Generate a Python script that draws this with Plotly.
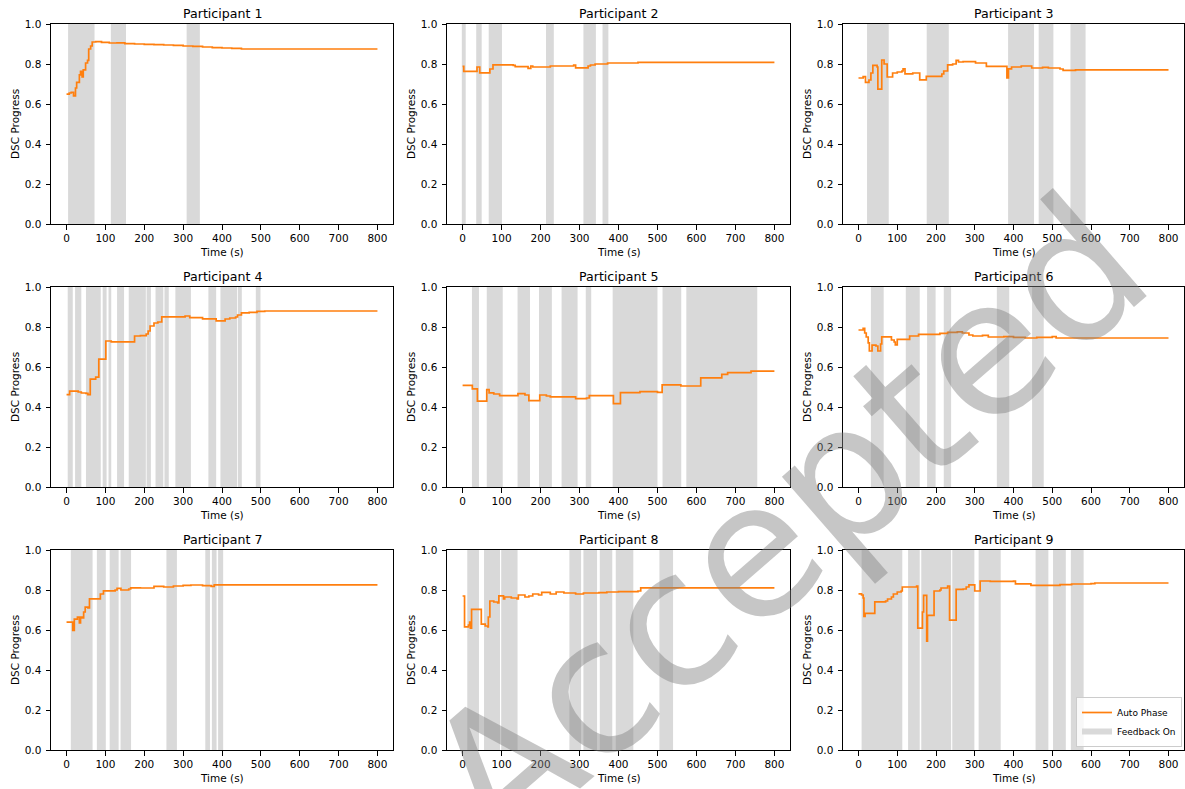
import plotly.graph_objects as go

# ---------------- data ----------------
titles = [f"Participant {i}" for i in range(1, 10)]
x_ticks = [0, 100, 200, 300, 400, 500, 600, 700, 800]
y_ticks = [0.0, 0.2, 0.4, 0.6, 0.8, 1.0]

p1_time = [0, 7, 12, 18, 23, 26, 33, 36, 40, 43, 49, 54, 57, 62, 66, 75, 90, 110, 130, 150, 175, 200, 225, 250, 275, 300, 325, 350, 375, 400, 425, 450, 800]
p1_dsc = [0.649, 0.655, 0.658, 0.641, 0.68, 0.708, 0.746, 0.763, 0.735, 0.771, 0.805, 0.818, 0.875, 0.89, 0.91, 0.912, 0.908, 0.905, 0.906, 0.902, 0.90, 0.898, 0.897, 0.895, 0.893, 0.89, 0.888, 0.885, 0.882, 0.88, 0.878, 0.875, 0.875]
p1_feedback = [(4, 72), (114, 153), (309, 343)]

p2_time = [0, 3, 37, 44, 70, 78, 130, 135, 168, 175, 180, 225, 285, 290, 322, 328, 340, 372, 450, 800]
p2_dsc = [0.788, 0.763, 0.785, 0.756, 0.775, 0.796, 0.793, 0.787, 0.778, 0.79, 0.785, 0.79, 0.795, 0.781, 0.79, 0.795, 0.80, 0.805, 0.808, 0.808]
p2_feedback = [(-2, 8), (35, 49), (67, 101), (214, 234), (310, 342), (359, 374)]

p3_time = [0, 12, 18, 27, 32, 37, 48, 50, 60, 66, 74, 88, 100, 112, 115, 120, 140, 158, 175, 215, 220, 230, 243, 252, 258, 270, 302, 330, 383, 387, 395, 420, 447, 475, 490, 520, 528, 560, 800]
p3_dsc = [0.73, 0.737, 0.708, 0.72, 0.755, 0.793, 0.785, 0.674, 0.82, 0.80, 0.735, 0.755, 0.76, 0.765, 0.776, 0.751, 0.755, 0.721, 0.738, 0.75, 0.765, 0.796, 0.80, 0.818, 0.81, 0.812, 0.805, 0.788, 0.73, 0.776, 0.785, 0.79, 0.78, 0.783, 0.78, 0.775, 0.768, 0.771, 0.771]
p3_feedback = [(22, 78), (176, 233), (386, 453), (465, 503), (547, 586)]

p4_time = [0, 8, 30, 38, 50, 55, 61, 75, 83, 101, 115, 175, 190, 205, 210, 215, 225, 235, 245, 305, 317, 350, 385, 408, 420, 435, 440, 450, 470, 490, 510, 800]
p4_dsc = [0.462, 0.479, 0.475, 0.47, 0.468, 0.462, 0.539, 0.549, 0.639, 0.73, 0.726, 0.755, 0.757, 0.765, 0.78, 0.805, 0.82, 0.825, 0.851, 0.855, 0.847, 0.841, 0.831, 0.84, 0.845, 0.85, 0.86, 0.871, 0.873, 0.878, 0.88, 0.88]
p4_feedback = [(3, 16), (22, 38), (50, 88), (93, 103), (108, 115), (130, 148), (160, 204), (206, 217), (229, 249), (252, 263), (280, 320), (365, 385), (396, 439), (441, 451), (487, 499)]

p5_time = [0, 25, 38, 62, 68, 80, 95, 142, 160, 170, 198, 215, 225, 290, 318, 325, 387, 405, 455, 500, 512, 560, 611, 665, 680, 740, 800]
p5_dsc = [0.508, 0.491, 0.429, 0.487, 0.471, 0.465, 0.457, 0.467, 0.46, 0.432, 0.46, 0.455, 0.451, 0.442, 0.445, 0.457, 0.417, 0.472, 0.477, 0.473, 0.511, 0.505, 0.546, 0.563, 0.572, 0.579, 0.579]
p5_feedback = [(24, 42), (62, 103), (141, 173), (196, 229), (254, 295), (316, 330), (385, 500), (513, 561), (574, 756)]

p6_time = [0, 12, 16, 20, 25, 28, 35, 45, 50, 57, 60, 85, 92, 95, 100, 132, 155, 210, 230, 255, 268, 285, 295, 320, 335, 375, 400, 430, 460, 500, 510, 800]
p6_dsc = [0.785, 0.793, 0.77, 0.75, 0.721, 0.68, 0.709, 0.705, 0.68, 0.715, 0.751, 0.735, 0.725, 0.711, 0.738, 0.755, 0.763, 0.768, 0.773, 0.776, 0.77, 0.76, 0.755, 0.758, 0.75, 0.752, 0.748, 0.745, 0.748, 0.752, 0.745, 0.745]
p6_feedback = [(32, 65), (122, 158), (177, 199), (220, 239), (357, 389), (448, 478)]

p7_time = [0, 16, 20, 28, 33, 36, 40, 44, 48, 55, 59, 87, 95, 125, 130, 140, 160, 165, 190, 225, 250, 275, 300, 320, 350, 372, 380, 800]
p7_dsc = [0.639, 0.598, 0.654, 0.664, 0.635, 0.665, 0.66, 0.69, 0.714, 0.71, 0.756, 0.78, 0.796, 0.80, 0.808, 0.80, 0.805, 0.811, 0.81, 0.818, 0.815, 0.82, 0.823, 0.825, 0.822, 0.818, 0.826, 0.826]
p7_feedback = [(11, 67), (78, 101), (111, 134), (139, 166), (257, 284), (357, 369), (374, 386), (390, 403)]

p8_time = [0, 5, 15, 18, 20, 23, 48, 58, 65, 66, 70, 80, 90, 93, 105, 108, 125, 140, 143, 160, 170, 180, 195, 203, 225, 240, 260, 290, 310, 350, 370, 400, 450, 457, 800]
p8_dsc = [0.77, 0.616, 0.625, 0.639, 0.609, 0.703, 0.629, 0.62, 0.615, 0.665, 0.745, 0.74, 0.735, 0.771, 0.755, 0.765, 0.76, 0.755, 0.775, 0.765, 0.77, 0.78, 0.775, 0.788, 0.78, 0.79, 0.785, 0.78, 0.785, 0.787, 0.79, 0.792, 0.795, 0.811, 0.811]
p8_feedback = [(12, 42), (55, 96), (99, 141), (274, 304), (310, 345), (352, 384), (393, 438), (505, 540)]

p9_time = [0, 8, 12, 14, 17, 42, 70, 75, 85, 90, 100, 110, 113, 150, 153, 165, 168, 176, 178, 195, 210, 213, 230, 235, 252, 270, 278, 285, 300, 314, 340, 400, 405, 445, 520, 550, 600, 610, 800]
p9_dsc = [0.781, 0.775, 0.76, 0.668, 0.683, 0.741, 0.745, 0.755, 0.765, 0.78, 0.79, 0.795, 0.815, 0.82, 0.609, 0.69, 0.773, 0.544, 0.673, 0.795, 0.80, 0.81, 0.82, 0.649, 0.803, 0.805, 0.815, 0.826, 0.795, 0.845, 0.843, 0.845, 0.831, 0.823, 0.827, 0.83, 0.832, 0.835, 0.835]
p9_feedback = [(8, 113), (128, 158), (162, 239), (242, 299), (310, 367), (457, 490), (502, 535), (548, 581)]

times = [p1_time, p2_time, p3_time, p4_time, p5_time, p6_time, p7_time, p8_time, p9_time]
dscs = [p1_dsc, p2_dsc, p3_dsc, p4_dsc, p5_dsc, p6_dsc, p7_dsc, p8_dsc, p9_dsc]
feedbacks = [p1_feedback, p2_feedback, p3_feedback, p4_feedback, p5_feedback,
             p6_feedback, p7_feedback, p8_feedback, p9_feedback]

# ---------------- layout geometry ----------------
W, H = 1185, 789
cols_px = [(51, 393), (447, 790), (843, 1184)]
rows_px = [(24, 224), (287, 487), (550, 750)]

FONT = "DejaVu Sans"
LINE_COLOR = "#ff7f0e"
SHADE = "#d9d9d9"

fig = go.Figure()
layout = dict(
    width=W, height=H,
    margin=dict(l=0, r=0, t=0, b=0, pad=0, autoexpand=False),
    paper_bgcolor="white", plot_bgcolor="white",
    font=dict(family=FONT, size=10.5, color="black"),
    showlegend=True,
    legend=dict(x=1182 / W, y=1 - 747 / H, xanchor="right", yanchor="bottom",
                bgcolor="rgba(255,255,255,0.8)", bordercolor="#cccccc", borderwidth=1,
                font=dict(family=FONT, size=9, color="black"),
                itemwidth=30, tracegroupgap=0),
)
shapes = []
annotations = []

for i in range(9):
    r, c = divmod(i, 3)
    n = "" if i == 0 else str(i + 1)
    x0p, x1p = cols_px[c]
    y0p, y1p = rows_px[r]
    axis_common = dict(showline=True, linecolor="black", linewidth=1, mirror=True,
                       ticks="outside", ticklen=4.5, tickwidth=1, tickcolor="black",
                       showgrid=False, zeroline=False, automargin=False,
                       tickfont=dict(family=FONT, size=10.5, color="black"))
    layout["xaxis" + n] = dict(axis_common, domain=[x0p / W, x1p / W], range=[-40, 840],
                               tickvals=x_ticks, anchor="y" + n)
    layout["yaxis" + n] = dict(axis_common, domain=[1 - y1p / H, 1 - y0p / H], range=[0, 1.0],
                               tickvals=y_ticks, tickformat=".1f", anchor="x" + n,
                               ticklabelstandoff=2)

    for (a, b) in feedbacks[i]:
        shapes.append(dict(type="rect", xref="x" + n, yref="y" + n + " domain",
                           x0=a, x1=b, y0=0, y1=1, fillcolor=SHADE,
                           line=dict(width=0), layer="below"))

    fig.add_trace(go.Scatter(x=times[i], y=dscs[i], mode="lines", line_shape="hv",
                             line=dict(color=LINE_COLOR, width=1.7),
                             name="Auto Phase", showlegend=(i == 8),
                             xaxis="x" + n, yaxis="y" + n, hoverinfo="skip"))

    annotations.append(dict(text=titles[i], xref="x" + n + " domain", yref="y" + n + " domain",
                            x=0.5, y=1, yshift=11, showarrow=False, xanchor="center",
                            yanchor="middle", font=dict(family=FONT, size=12.6, color="black")))
    annotations.append(dict(text="Time (s)", xref="x" + n + " domain", yref="y" + n + " domain",
                            x=0.5, y=0, yshift=-28, showarrow=False, xanchor="center",
                            yanchor="middle", font=dict(family=FONT, size=10.5, color="black")))
    annotations.append(dict(text="DSC Progress", xref="x" + n + " domain", yref="y" + n + " domain",
                            x=0, y=0.5, xshift=-36, showarrow=False, textangle=-90,
                            xanchor="center", yanchor="middle",
                            font=dict(family=FONT, size=10.5, color="black")))

# legend entry for the shaded feedback periods
fig.add_trace(go.Scatter(x=[None], y=[None], mode="none", fill="toself", fillcolor=SHADE,
                         name="Feedback On", xaxis="x9", yaxis="y9", showlegend=True,
                         hoverinfo="skip"))

# watermark
annotations.append(dict(text="Accepted", xref="paper", yref="paper",
                        x=786 / W, y=1 - 522 / H, showarrow=False, textangle=-41,
                        xanchor="center", yanchor="middle",
                        font=dict(family=FONT, size=188, color="rgba(128,128,128,0.45)")))

layout["shapes"] = shapes
layout["annotations"] = annotations
fig.update_layout(layout)
fig.write_html("out.html", config={"displayModeBar": False},
               post_script="document.body.style.margin='0';document.body.style.overflow='hidden';")
